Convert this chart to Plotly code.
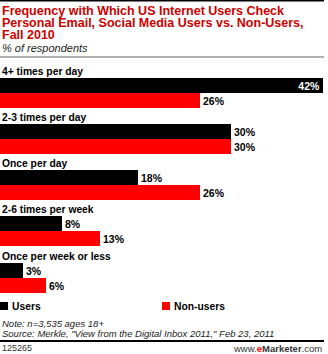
import plotly.graph_objects as go

categories = ["4+ times per day", "2-3 times per day", "Once per day",
              "2-6 times per week", "Once per week or less"]
users = [42, 30, 18, 8, 3]
non_users = [26, 30, 26, 13, 6]
series_names = ["Users", "Non-users"]
title_lines = ["Frequency with Which US Internet Users Check",
               "Personal Email, Social Media Users vs. Non-Users,",
               "Fall 2010"]
subtitle = "% of respondents"
note = "Note: n=3,535 ages 18+"
source = 'Source: Merkle, "View from the Digital Inbox 2011," Feb 23, 2011'
chart_id = "125265"

W, H = 328, 354
FONT = "Liberation Sans"
BLACK = "#000000"
RED = "#ff0000"
TITLE_RED = "#cc0000"

px_per_pct = 7.69
first_center = 85.0
group_step = 46.3
bar_h = 15.0

n = len(categories)
y_users = [first_center + i * group_step for i in range(n)]
y_non = [y + bar_h for y in y_users]

fig = go.Figure()

def labels(vals):
    return [f"<b>{v}%</b>" for v in vals]

max_v = max(users + non_users)
fig.add_trace(go.Bar(
    x=users, y=y_users, orientation="h", width=bar_h,
    marker=dict(color=BLACK, line=dict(width=0)),
    name=series_names[0], showlegend=False,
    text=labels(users),
    textposition=["inside" if v == max_v else "outside" for v in users],
    insidetextanchor="end", constraintext="none",
    insidetextfont=dict(color="white", size=10.5, family=FONT),
    outsidetextfont=dict(color="black", size=10.5, family=FONT),
    cliponaxis=False, hoverinfo="skip",
))
fig.add_trace(go.Bar(
    x=non_users, y=y_non, orientation="h", width=bar_h,
    marker=dict(color=RED, line=dict(width=0)),
    name=series_names[1], showlegend=False,
    text=labels(non_users), textposition="outside", constraintext="none",
    outsidetextfont=dict(color="black", size=10.5, family=FONT),
    cliponaxis=False, hoverinfo="skip",
))

ann = []
# title
for k, line in enumerate(title_lines):
    ann.append(dict(text=f"<b>{line}</b>", x=0, xref="paper", y=10.5 + k * 12.3, yref="y",
                    xanchor="left", yanchor="middle", showarrow=False,
                    font=dict(family=FONT, size=12.5, color=TITLE_RED)))
ann.append(dict(text=f"<i>{subtitle}</i>", x=0, xref="paper", y=48, yref="y",
                xanchor="left", yanchor="middle", showarrow=False,
                font=dict(family=FONT, size=11, color="#222")))
# category labels
for i, c in enumerate(categories):
    ann.append(dict(text=f"<b>{c}</b>", x=0, xref="paper", y=y_users[i] - 14, yref="y",
                    xanchor="left", yanchor="middle", showarrow=False,
                    font=dict(family=FONT, size=10.3, color="black")))
# legend
leg_y = 306
ann.append(dict(text=f"<b>{series_names[0]}</b>", x=10 / W, xref="paper", y=leg_y, yref="y",
                xanchor="left", yanchor="middle", showarrow=False,
                font=dict(family=FONT, size=10.3, color="black")))
ann.append(dict(text=f"<b>{series_names[1]}</b>", x=172 / W, xref="paper", y=leg_y, yref="y",
                xanchor="left", yanchor="middle", showarrow=False,
                font=dict(family=FONT, size=10.3, color="black")))
# note / source
ann.append(dict(text=f"<i>{note}</i>", x=0, xref="paper", y=323, yref="y",
                xanchor="left", yanchor="middle", showarrow=False,
                font=dict(family=FONT, size=9.5, color="#222")))
ann.append(dict(text=f"<i>{source}</i>", x=0, xref="paper", y=333, yref="y",
                xanchor="left", yanchor="middle", showarrow=False,
                font=dict(family=FONT, size=9.5, color="#222")))
ann.append(dict(text=chart_id, x=0, xref="paper", y=348, yref="y",
                xanchor="left", yanchor="middle", showarrow=False,
                font=dict(family=FONT, size=9, color="#333")))
ann.append(dict(text='www.<b><span style="color:#ff0000">e</span>Marketer</b>.com',
                x=324 / W, xref="paper", y=348, yref="y",
                xanchor="right", yanchor="middle", showarrow=False,
                font=dict(family=FONT, size=9.5, color="#333")))

shapes = [
    dict(type="line", xref="paper", yref="y", x0=0, x1=324 / W, y0=0.5, y1=0.5,
         line=dict(color="black", width=2)),
    dict(type="line", xref="paper", yref="y", x0=0, x1=324 / W, y0=57, y1=57,
         line=dict(color="#999999", width=1.5)),
    dict(type="line", xref="paper", yref="y", x0=0, x1=324 / W, y0=341, y1=341,
         line=dict(color="black", width=2)),
    dict(type="rect", xref="paper", yref="y", x0=0, x1=8 / W, y0=302, y1=310,
         fillcolor=BLACK, line=dict(width=0)),
    dict(type="rect", xref="paper", yref="y", x0=162 / W, x1=170 / W, y0=302, y1=310,
         fillcolor=RED, line=dict(width=0)),
]

fig.update_layout(
    width=W, height=H,
    margin=dict(l=0, r=0, t=0, b=0),
    paper_bgcolor="white", plot_bgcolor="white",
    barmode="overlay", bargap=0,
    xaxis=dict(range=[0, W / px_per_pct], visible=False, fixedrange=True),
    yaxis=dict(range=[H, 0], visible=False, fixedrange=True),
    annotations=ann, shapes=shapes,
)

fig.write_html("out.html", config={"displayModeBar": False})
